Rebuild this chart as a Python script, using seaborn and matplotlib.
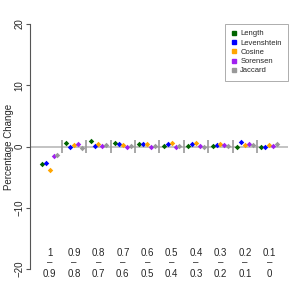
import matplotlib
matplotlib.use("Agg")
import matplotlib.pyplot as plt
import seaborn as sns
import pandas as pd

groups_top = ["1", "0.9", "0.8", "0.7", "0.6", "0.5", "0.4", "0.3", "0.2", "0.1"]
groups_bot = ["0.9", "0.8", "0.7", "0.6", "0.5", "0.4", "0.3", "0.2", "0.1", "0"]
metrics = ["Length", "Levenshtein", "Cosine", "Sorensen", "Jaccard"]
colors = ["#006400", "#0000FF", "#FFA500", "#A020F0", "#999999"]

length = [-2.9, 0.55, 0.95, 0.65, 0.35, 0.12, 0.1, 0.05, 0.0, 0.0]
levenshtein = [-2.7, -0.1, 0.05, 0.35, 0.35, 0.4, 0.35, 0.2, 0.7, 0.0]
cosine = [-3.85, 0.25, 0.4, 0.3, 0.45, 0.5, 0.5, 0.35, 0.25, 0.3]
sorensen = [-1.55, 0.4, 0.08, 0.0, 0.0, 0.0, 0.08, 0.2, 0.4, 0.1]
jaccard = [-1.4, -0.3, 0.3, 0.13, 0.03, 0.03, 0.0, 0.08, 0.3, 0.45]

series = [length, levenshtein, cosine, sorensen, jaccard]
rows = []
for m, vals in zip(metrics, series):
    for gi, v in enumerate(vals):
        rows.append({"group": gi, "metric": m, "value": v})
df = pd.DataFrame(rows)

sns.set_style("white")
plt.rcParams["font.family"] = ["Liberation Sans", "DejaVu Sans"]

fig = plt.figure(figsize=(3, 3), dpi=100)
ax = fig.add_axes([30 / 300, (300 - 269) / 300, 258 / 300, 245 / 300])

ax.axhline(0, color="#BEBEBE", lw=1.3, zorder=0)
ax.vlines([i + 0.5 for i in range(len(groups_top) - 1)], -1.1, 1.1,
          color="#999999", lw=1.2, zorder=0)

sns.stripplot(data=df, x="group", y="value", hue="metric", hue_order=metrics,
              palette=colors, dodge=True, jitter=False, marker="D", size=2.8,
              linewidth=0, ax=ax, zorder=3)

ax.set_xlim(-0.807, 9.77)
ax.set_ylim(-20, 20)
ax.set_xticks([])
ax.set_xlabel("")
ax.set_yticks([-20, -10, 0, 10, 20])
ax.set_yticklabels(["\u221220", "\u221210", "0", "10", "20"], rotation=90,
                   va="center", fontsize=7)
ax.tick_params(axis="y", direction="out", length=3, width=0.8, color="#555555",
               pad=1, left=True)
ax.set_ylabel("Percentage Change", fontsize=7, va="center")
ax.yaxis.set_label_coords((9 - 30) / 258, 0.5)

for s in ["top", "right", "bottom"]:
    ax.spines[s].set_visible(False)
ax.spines["left"].set_bounds(-20, 20)
ax.spines["left"].set_color("#555555")
ax.spines["left"].set_linewidth(0.8)

for i, (t, b) in enumerate(zip(groups_top, groups_bot)):
    ax.text(i, -17.4, t, ha="center", va="center", fontsize=7, clip_on=False)
    ax.text(i, -18.9, "\u2013", ha="center", va="center", fontsize=7, clip_on=False)
    ax.text(i, -20.8, b, ha="center", va="center", fontsize=7, clip_on=False)

handles = [plt.Line2D([], [], marker="s", linestyle="", color=c, markersize=3)
           for c in colors]
leg = ax.legend(handles, metrics, loc="upper right", borderaxespad=0,
                fancybox=False, frameon=True, fontsize=5.5, handlelength=0.8,
                handletextpad=0.4, labelspacing=0.25, borderpad=0.8)
leg.get_frame().set_edgecolor("#888888")
leg.get_frame().set_linewidth(0.6)

fig.savefig("out.png", dpi=100)
